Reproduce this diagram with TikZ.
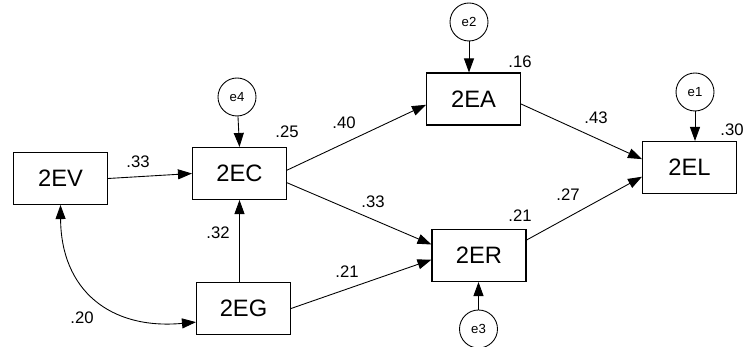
\documentclass[tikz,border=0pt]{standalone}
\usepackage{fontspec}
\setmainfont{Liberation Sans}
\usetikzlibrary{arrows.meta}
\begin{document}
\begin{tikzpicture}[var/.style={draw,line width=0.6pt,minimum width=1.88cm,minimum height=1.04cm,inner sep=0pt,font=\fontsize{13.5}{15}\selectfont},
  err/.style={draw,circle,line width=0.5pt,minimum size=0.76cm,inner sep=0pt,font=\fontsize{7.5}{8}\selectfont},
  coef/.style={inner sep=0pt,font=\fontsize{9.5}{10}\selectfont},
  arr/.style={-{Triangle[length=0.28cm,width=0.2cm]},line width=0.5pt}]
\useasboundingbox (0,0) rectangle (15.1,6.94);
% observed variables
\node[var] (EV) at (1.21,3.37) {2EV};
\node[var] (EC) at (4.79,3.47) {2EC};
\node[var] (EG) at (4.87,0.77) {2EG};
\node[var] (EA) at (9.47,4.96) {2EA};
\node[var] (ER) at (9.58,1.83) {2ER};
\node[var] (EL) at (13.79,3.59) {2EL};
% errors
\node[err] (e4) at (4.74,5.00) {e4};
\node[err] (e2) at (9.38,6.50) {e2};
\node[err] (e1) at (13.90,5.10) {e1};
\node[err] (e3) at (9.57,0.36) {e3};
% paths
\draw[arr] (EV.east) -- (EC.west);
\draw[arr] (EC.south |- EG.north) -- (EC.south);
\draw[arr] (EC.4) -- (EA.187);
\draw[arr] (EC.-11) -- (ER.167);
\draw[arr] (EG.east) -- (ER.185);
\draw[arr] (EA.-6) -- (EL.170);
\draw[arr] (ER.18) -- (EL.191);
\draw[arr] (e4) -- (EC.north);
\draw[arr] (e2) -- (e2 |- EA.north);
\draw[arr] (e1) -- (e1 |- EL.north);
\draw[arr] (e3) -- (e3 |- ER.south);
\draw[{Triangle[length=0.28cm,width=0.2cm]}-{Triangle[length=0.28cm,width=0.2cm]},line width=0.5pt]
  (EV.south) .. controls (1.22,1.14) and (2.20,0.34) .. (EG.196);
% coefficients
\node[coef] (c1) at (2.76,3.70) {.33};
\node[coef] (c2) at (5.74,4.30) {.25};
\node[coef] (c3) at (6.88,4.48) {.40};
\node[coef] (c4) at (10.40,5.70) {.16};
\node[coef] (c5) at (11.92,4.58) {.43};
\node[coef] (c6) at (14.64,4.34) {.30};
\node[coef] (c7) at (7.46,2.90) {.33};
\node[coef] (c8) at (10.40,2.62) {.21};
\node[coef] (c9) at (11.36,3.04) {.27};
\node[coef] (c10) at (4.36,2.28) {.32};
\node[coef] (c11) at (6.94,1.50) {.21};
\node[coef] (c12) at (1.64,0.58) {.20};
\end{tikzpicture}
\end{document}
